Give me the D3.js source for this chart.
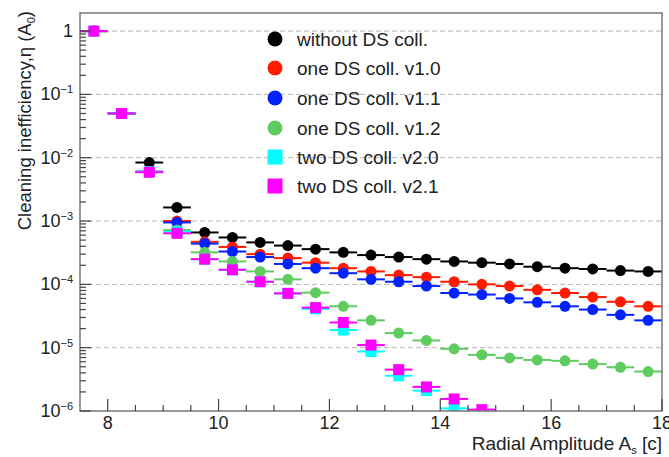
<!DOCTYPE html>
<html>
<head>
<meta charset="utf-8">
<script src="https://cdn.jsdelivr.net/npm/d3@7"></script>
<style>
  body { margin: 0; background: #fff; }
  text { font-family: "Liberation Sans", Arial, sans-serif; fill: #222; }
</style>
</head>
<body>
<svg id="chart" width="669" height="457"></svg>
<script>
// bin centres (radial amplitude, sigma)
const binCenters = [7.75, 8.25, 8.75, 9.25, 9.75, 10.25, 10.75, 11.25, 11.75, 12.25, 12.75,
    13.25, 13.75, 14.25, 14.75, 15.25, 15.75, 16.25, 16.75, 17.25, 17.75];
const halfBin = 0.25;

// cleaning inefficiency per configuration
const withoutDS = [1, 0.05, 8.4e-3, 1.64e-3, 6.6e-4, 5.5e-4, 4.6e-4, 4.1e-4, 3.6e-4, 3.2e-4, 2.9e-4,
    2.7e-4, 2.5e-4, 2.3e-4, 2.2e-4, 2.1e-4, 1.9e-4, 1.8e-4, 1.75e-4, 1.65e-4, 1.6e-4];
const oneDSv10 = [1, 0.05, 6e-3, 1.0e-3, 4.7e-4, 3.9e-4, 3.0e-4, 2.6e-4, 2.2e-4, 1.8e-4, 1.6e-4,
    1.4e-4, 1.3e-4, 1.1e-4, 1.0e-4, 9.4e-5, 8.2e-5, 7.3e-5, 6.3e-5, 5.3e-5, 4.5e-5];
const oneDSv11 = [1, 0.05, 6e-3, 9.5e-4, 4.4e-4, 3.3e-4, 2.7e-4, 2.1e-4, 1.8e-4, 1.5e-4, 1.2e-4,
    1.1e-4, 9.4e-5, 7.3e-5, 6.9e-5, 6.0e-5, 5.2e-5, 4.5e-5, 4.0e-5, 3.3e-5, 2.7e-5];
const oneDSv12 = [1, 0.05, 6e-3, 7.2e-4, 3.2e-4, 2.3e-4, 1.6e-4, 1.2e-4, 7.4e-5, 4.5e-5, 2.7e-5,
    1.7e-5, 1.3e-5, 9.6e-6, 7.7e-6, 6.9e-6, 6.4e-6, 6.2e-6, 5.5e-6, 4.9e-6, 4.2e-6];
const twoDSv20 = [1, 0.05, 6e-3, 6.8e-4, 2.5e-4, 1.7e-4, 1.1e-4, 7.2e-5, 4.1e-5, 1.9e-5, 8.7e-6,
    3.6e-6, 2.1e-6, 1.1e-6, null, null, null, null, null, null, null];
const twoDSv21 = [1, 0.05, 5.9e-3, 6.4e-4, 2.5e-4, 1.7e-4, 1.1e-4, 7.2e-5, 4.3e-5, 2.5e-5, 1.1e-5,
    4.5e-6, 2.4e-6, 1.55e-6, 1.05e-6, null, null, null, null, null, null];

const seriesNames = ["without DS coll.", "one DS coll. v1.0", "one DS coll. v1.1",
    "one DS coll. v1.2", "two DS coll. v2.0", "two DS coll. v2.1"];
const seriesValues = [withoutDS, oneDSv10, oneDSv11, oneDSv12, twoDSv20, twoDSv21];
const seriesColors = ["#000000", "#ff1a00", "#0022ff", "#5fcc5f", "#00ffff", "#ff00ff"];
const seriesShapes = ["circle", "circle", "circle", "circle", "square", "square"];

const xTickLabels = [8, 10, 12, 14, 16, 18];
const yDecades = [0, -1, -2, -3, -4, -5, -6];

const svg = d3.select("#chart");
const padL = 80, padR = 662, padT = 13, padB = 411;

const x = d3.scaleLinear().domain([7.5, 18]).range([padL, padR]);
const y = d3.scaleLog().domain([1e-6, 1.93]).range([padB, padT]);

// horizontal dashed grid at each decade
svg.append("g")
    .selectAll("line")
    .data(yDecades.filter(d => d > -6))
    .enter().append("line")
    .attr("x1", padL).attr("x2", padR)
    .attr("y1", d => y(Math.pow(10, d))).attr("y2", d => y(Math.pow(10, d)))
    .attr("stroke", "#b4b4b4")
    .attr("stroke-width", 1)
    .attr("stroke-dasharray", "5,3");

// clip for markers
svg.append("clipPath").attr("id", "plotClip")
    .append("rect").attr("x", padL).attr("y", padT).attr("width", padR - padL).attr("height", padB - padT);

// draw series, legend order so magenta ends on top
const plot = svg.append("g").attr("clip-path", "url(#plotClip)");
seriesValues.forEach((vals, i) => {
    let pts = binCenters.map((c, k) => ({ x: c, v: vals[k] })).filter(p => p.v != null);
    let g = plot.append("g");
    g.selectAll("line")
        .data(pts)
        .enter().append("line")
        .attr("x1", d => x(d.x - halfBin)).attr("x2", d => x(d.x + halfBin))
        .attr("y1", d => y(d.v)).attr("y2", d => y(d.v))
        .attr("stroke", seriesColors[i])
        .attr("stroke-width", 2);
    if (seriesShapes[i] === "circle") {
        g.selectAll("circle")
            .data(pts)
            .enter().append("circle")
            .attr("cx", d => x(d.x)).attr("cy", d => y(d.v))
            .attr("r", 5.5)
            .attr("fill", seriesColors[i]);
    } else {
        g.selectAll("rect")
            .data(pts)
            .enter().append("rect")
            .attr("x", d => x(d.x) - 5.5).attr("y", d => y(d.v) - 5.5)
            .attr("width", 11).attr("height", 11)
            .attr("fill", seriesColors[i]);
    }
});

// frame
svg.append("rect")
    .attr("x", padL).attr("y", padT)
    .attr("width", padR - padL).attr("height", padB - padT)
    .attr("fill", "none")
    .attr("stroke", "#777")
    .attr("stroke-width", 1.5);

// x axis ticks (inside), minor every 0.5
const xTicks = d3.range(8, 18.01, 0.5);
svg.append("g")
    .selectAll("line")
    .data(xTicks)
    .enter().append("line")
    .attr("x1", d => x(d)).attr("x2", d => x(d))
    .attr("y1", padB)
    .attr("y2", d => padB - (d % 2 === 0 ? 12 : 6))
    .attr("stroke", "#444")
    .attr("stroke-width", 1.2);

svg.append("g")
    .selectAll("text")
    .data(xTickLabels)
    .enter().append("text")
    .attr("x", d => x(d))
    .attr("y", 429)
    .attr("text-anchor", "middle")
    .attr("font-size", "18px")
    .text(d => d);

// y axis ticks (inside), log minor ticks
let yMinor = [];
yDecades.forEach(e => {
    for (let m = 1; m < 10; m++) {
        let v = m * Math.pow(10, e);
        if (v <= 1.93 && v >= 1e-6) yMinor.push({ v: v, major: m === 1 });
    }
});
svg.append("g")
    .selectAll("line")
    .data(yMinor)
    .enter().append("line")
    .attr("x1", padL)
    .attr("x2", d => padL + (d.major ? 11 : 6))
    .attr("y1", d => y(d.v)).attr("y2", d => y(d.v))
    .attr("stroke", "#444")
    .attr("stroke-width", 1.2);

let yLab = svg.append("g")
    .selectAll("text")
    .data(yDecades)
    .enter().append("text")
    .attr("x", 73)
    .attr("y", d => y(Math.pow(10, d)) + 6)
    .attr("text-anchor", "end")
    .attr("font-size", "18px");
yLab.filter(d => d === 0).text("1");
yLab.filter(d => d !== 0).each(function (d) {
    let t = d3.select(this);
    t.append("tspan").text("10");
    t.append("tspan").attr("dy", -7).attr("font-size", "11px").text("\u2212" + (-d));
});

// axis titles
let xt = svg.append("text")
    .attr("x", 662)
    .attr("y", 450)
    .attr("text-anchor", "end")
    .attr("font-size", "19px");
xt.append("tspan").text("Radial Amplitude A");
xt.append("tspan").attr("dy", 4).attr("font-size", "11px").text("s");
xt.append("tspan").attr("dy", -4).text(" [c]");

let yt = svg.append("text")
    .attr("transform", "translate(31,11) rotate(-90)")
    .attr("text-anchor", "end")
    .attr("font-size", "18.5px");
yt.append("tspan").text("Cleaning inefficiency,\u03b7 (A");
yt.append("tspan").attr("dy", 4).attr("font-size", "11px").text("0");
yt.append("tspan").attr("dy", -4).text(")");

// legend (transparent, no border)
const legendY = [39, 68, 98, 128, 157, 186];
let leg = svg.append("g")
    .selectAll("g")
    .data(seriesNames)
    .enter().append("g")
    .attr("transform", (d, i) => "translate(275," + legendY[i] + ")");
leg.each(function (d, i) {
    let g = d3.select(this);
    if (seriesShapes[i] === "circle") {
        g.append("circle").attr("r", 7.5).attr("fill", seriesColors[i]);
    } else {
        g.append("rect").attr("x", -7.5).attr("y", -7.5).attr("width", 15).attr("height", 15)
            .attr("fill", seriesColors[i]);
    }
    g.append("text")
        .attr("x", 22)
        .attr("y", 7)
        .attr("font-size", "19px")
        .text(d);
});
</script>
</body>
</html>
